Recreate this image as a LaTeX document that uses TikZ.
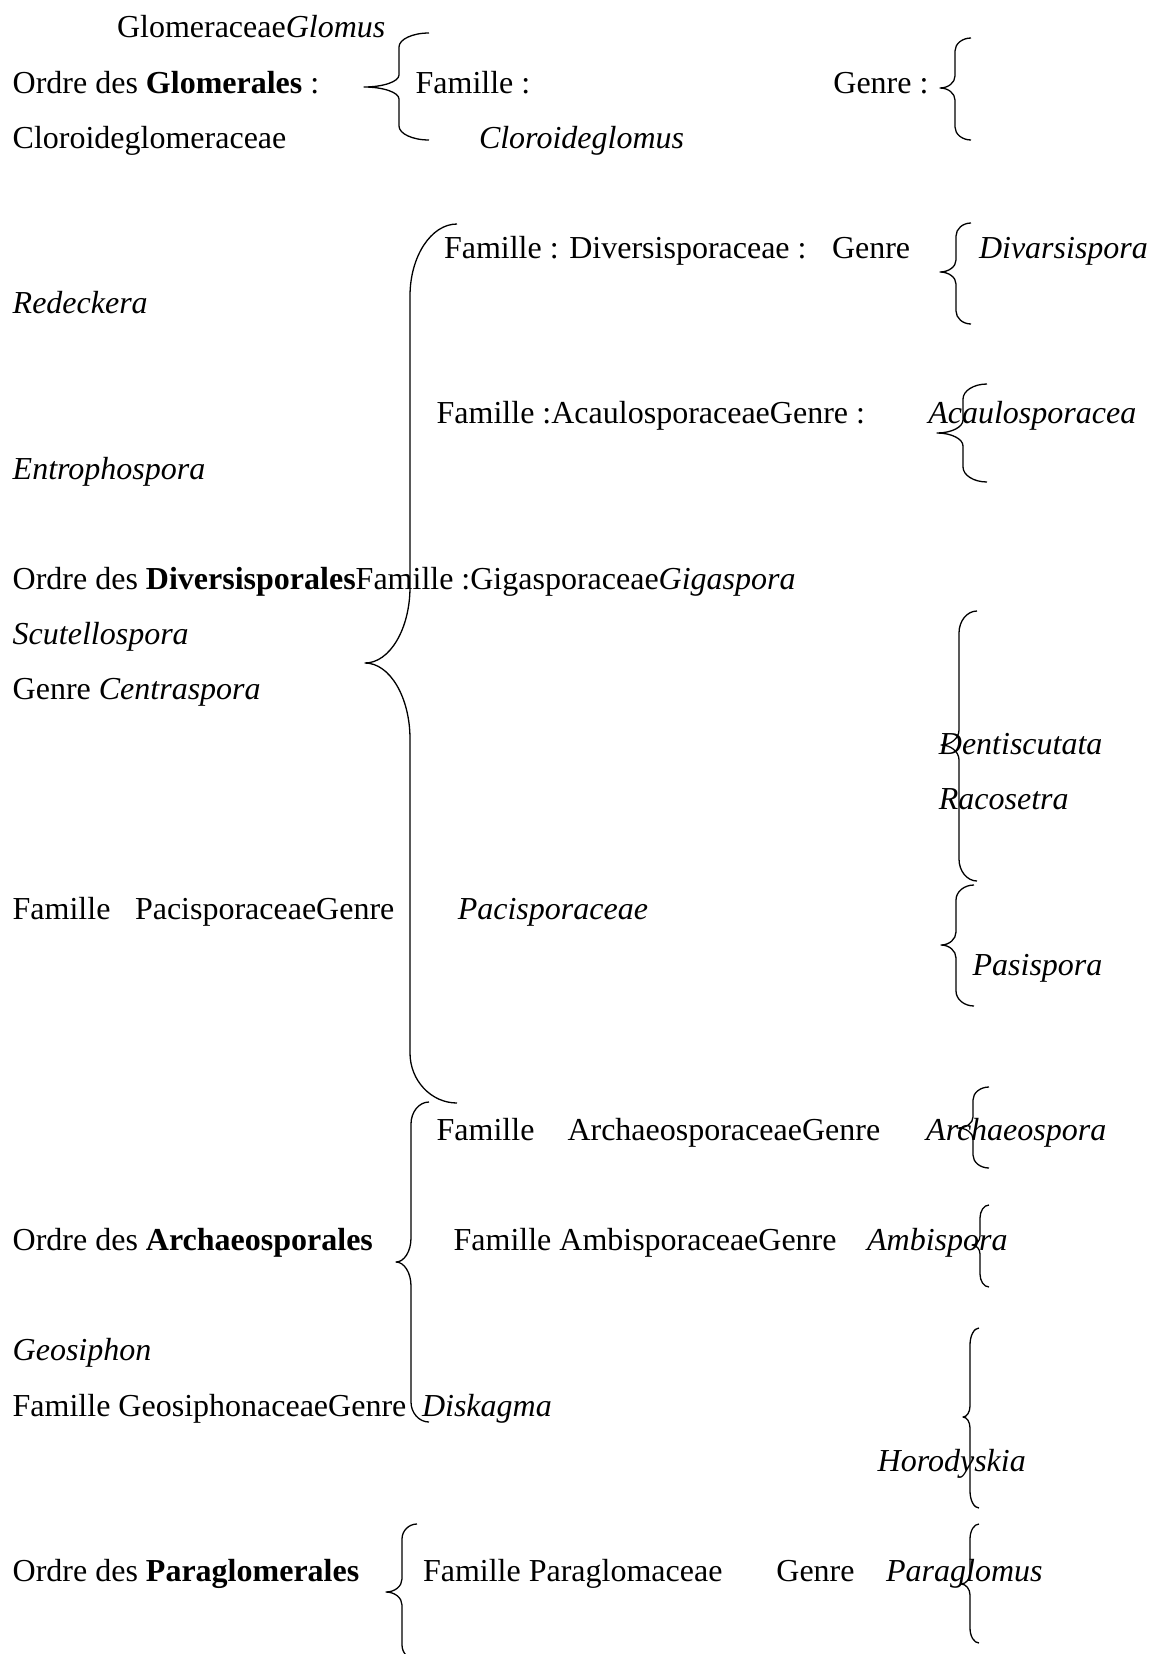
\documentclass[tikz,border=0pt]{standalone}
\usepackage{fontspec}
\setmainfont{Liberation Serif}
\tikzset{
  txt/.style={anchor=base west, inner sep=0pt, outer sep=0pt, font=\fontsize{32}{38}\selectfont},
  brc/.style={draw=black, line width=1.3pt, line join=round}
}
% #1 xend, #2 ytop, #3 xv, #4 xtip, #5 ytip, #6 ybot, #7 r top, #8 r2 (tip curves), #9 r bottom
\newcommand\accolade[9]{%
  \draw[brc] (#1,#2) .. controls ({#1+0.55*(#3-#1)},#2) and (#3,{#2+0.45*#7}) .. (#3,{#2+#7})
    -- (#3,{#5-#8}) .. controls (#3,{#5-0.45*#8}) and ({#4+0.55*(#3-#4)},#5) .. (#4,#5)
    .. controls ({#4+0.55*(#3-#4)},#5) and (#3,{#5+0.45*#8}) .. (#3,{#5+#8})
    -- (#3,{#6-#9}) .. controls (#3,{#6-0.45*#9}) and ({#1+0.55*(#3-#1)},#6) .. (#1,#6);}
\begin{document}
\begin{tikzpicture}[x=1pt,y=-1pt]
\useasboundingbox (0,0) rectangle (1152,1654);
\fill[white] (0,0) rectangle (1152,1654);

% texts
\node[txt] (t1) at (117,38) {Glomeraceae\textit{Glomus}};
\node[txt] (t2) at (12.7,93.1) {Ordre des \textbf{Glomerales} :};
\node[txt] (t3) at (415.6,93.1) {Famille :};
\node[txt] (t4) at (833.4,93.1) {Genre :};
\node[txt] (t5) at (12.7,148.2) {Cloroideglomeraceae};
\node[txt] (t6) at (479,148.2) {\textit{Cloroideglomus}};
\node[txt] (t7) at (444,258.5) {Famille : Diversisporaceae :};
\node[txt] (t8) at (832,258.5) {Genre};
\node[txt] (t9) at (979,258.5) {\textit{Divarsispora}};
\node[txt] (t10) at (12.7,313.6) {\textit{Redeckera}};
\node[txt] (t11) at (436.7,423.8) {Famille :AcaulosporaceaeGenre :};
\node[txt] (t12) at (928.3,423.8) {\textit{Acaulosporacea}};
\node[txt] (t13) at (12.7,479) {\textit{Entrophospora}};
\node[txt] (t14) at (12.7,589.2) {Ordre des \textbf{Diversisporales}Famille :Gigasporaceae\textit{Gigaspora}};
\node[txt] (t15) at (12.7,644.3) {\textit{Scutellospora}};
\node[txt] (t16) at (12.7,699.4) {Genre \textit{Centraspora}};
\node[txt] (t17) at (938.9,754.6) {\textit{Dentiscutata}};
\node[txt] (t18) at (938.9,809.7) {\textit{Racosetra}};
\node[txt] (t19) at (12.7,919.9) {Famille};
\node[txt] (t20) at (135,919.9) {PacisporaceaeGenre};
\node[txt] (t21) at (457.8,919.9) {\textit{Pacisporaceae}};
\node[txt] (t22) at (972.6,975) {\textit{Pasispora}};
\node[txt] (t23) at (436.7,1140.4) {Famille};
\node[txt] (t24) at (567.5,1140.4) {ArchaeosporaceaeGenre};
\node[txt] (t25) at (926.2,1140.4) {\textit{Archaeospora}};
\node[txt] (t26) at (12.7,1250.6) {Ordre des \textbf{Archaeosporales}};
\node[txt] (t27) at (453.6,1250.6) {Famille AmbisporaceaeGenre};
\node[txt] (t28) at (867.1,1250.6) {\textit{Ambispora}};
\node[txt] (t29) at (12.7,1360.9) {\textit{Geosiphon}};
\node[txt] (t30) at (12.7,1416) {Famille GeosiphonaceaeGenre};
\node[txt] (t31) at (422,1416) {\textit{Diskagma}};
\node[txt] (t32) at (877.7,1471.1) {\textit{Horodyskia}};
\node[txt] (t33) at (12.7,1581.4) {Ordre des \textbf{Paraglomerales}};
\node[txt] (t34) at (423,1581.4) {Famille Paraglomaceae};
\node[txt] (t35) at (776.4,1581.4) {Genre};
\node[txt] (t36) at (886.1,1581.4) {\textit{Paraglomus}};

% braces
\accolade{429}{33}{399}{364}{87}{140}{14}{12}{14}        % Glomerales
\accolade{971}{38}{955}{940}{88}{140}{13}{12}{13}        % Genre :
\accolade{457}{224}{410}{365}{663}{1103}{72}{76}{50}     % Diversisporales
\accolade{971}{223}{956}{940}{272}{324}{13}{12}{13}      % Divarsispora
\accolade{987}{384}{963}{937}{433}{482}{15}{13}{15}      % Acaulosporacea
\accolade{977}{611}{959}{941}{745}{881}{22}{15}{22}      % Dentiscutata
\accolade{974}{885}{956}{941}{945}{1006}{15}{13}{15}     % Pasispora
\accolade{429}{1102}{411}{396}{1262}{1422}{22}{24}{20}   % Archaeosporales
\accolade{989}{1087}{973}{958}{1128}{1168}{13}{11}{13}   % Archaeospora
\accolade{989}{1205}{980}{972}{1245}{1287}{13}{9}{13}    % Ambispora
\accolade{979}{1328}{970}{963}{1417}{1508}{17}{11}{17}   % Horodyskia
\accolade{417}{1524}{402}{386}{1592}{1660}{15}{13}{15}   % Paraglomerales
\accolade{979}{1524}{970}{961}{1584}{1643}{15}{11}{15}   % Paraglomus
\end{tikzpicture}
\end{document}
